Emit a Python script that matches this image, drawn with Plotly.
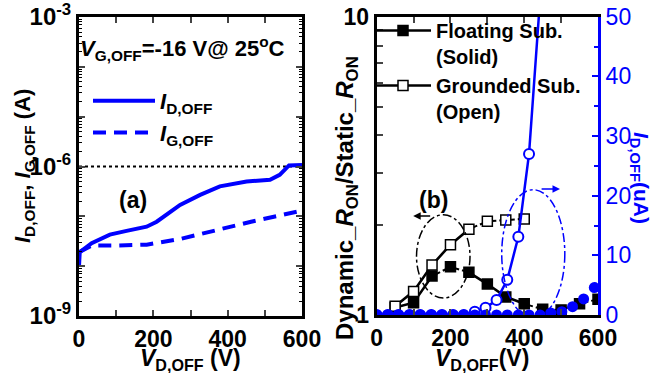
import plotly.graph_objects as go

# ---------------- data ----------------
# (a) off-state leakage vs drain voltage
v_id_a = [0, 2, 34, 83, 128, 182, 209, 272, 326, 379, 451, 514, 540, 565, 600]
i_d_off = [1.0e-8, 1.9e-8, 2.9e-8, 4.3e-8, 5.1e-8, 6.2e-8, 7.8e-8, 1.7e-7,
           2.7e-7, 4.0e-7, 5.0e-7, 5.4e-7, 6.8e-7, 1.05e-6, 1.07e-6]
v_ig_a = [0, 34, 100, 182, 272, 372, 463, 600]
i_g_off = [1.9e-8, 2.6e-8, 2.6e-8, 2.7e-8, 3.5e-8, 5.4e-8, 7.8e-8, 1.3e-7]
ref_v = [0, 600]
ref_i = [1e-6, 1e-6]

# (b) dynamic/static R_ON ratio
v_float = [50, 100, 150, 200, 250, 300, 350, 400, 450, 500, 550, 600]
ron_float = [1.06, 1.10, 1.35, 1.45, 1.39, 1.27, 1.15, 1.09, 1.045, 1.04, 1.09, 1.13]
v_ground = [50, 100, 150, 200, 250, 300, 350, 400]
ron_ground = [1.07, 1.20, 1.47, 1.72, 1.94, 2.06, 2.08, 2.10]

# (b) I_D,OFF in uA
v_id_b = [0, 30, 59, 89, 118, 148, 177, 207, 236, 266, 295, 325, 354, 384,
          413, 443, 472, 502, 531, 561, 590]
id_float_ua = [0, 0, 0, 0, 0, 0, 0, 0, 0, 0, 0, 0, 0, 0, 0, 0, 0.35, 0.55, 1.4, 2.7, 4.6]
id_ground_ua = [0, 0, 0, 0, 0, 0, 0, 0, 0, 0.56, 1.2, 2.5, 5.9, 13.1, 27.0, 53.0,
                None, None, None, None, None]

x_ticks = [0, 100, 200, 300, 400, 500, 600]
x_ticktext = ["0", "", "200", "", "400", "", "600"]
decades = [1e-9, 1e-8, 1e-7, 1e-6, 1e-5, 1e-4, 1e-3]
decade_text = ["10<sup>-9</sup>", "", "", "10<sup>-6</sup>", "", "", "10<sup>-3</sup>"]
ratio_ticks = [1, 2, 3, 4, 5, 6, 7, 8, 9, 10]
ratio_text = ["1", "", "", "", "", "", "", "", "", "10"]

# line-style of each segment (between consecutive points)
float_seg = ["solid", "solid", "dashdot", "dashdot", "solid", "solid", "solid",
             "dashdot", "dashdot", "dashdot", "dashdot"]
ground_seg = ["solid", "solid", "solid", "solid", "dashdot", "dashdot", "dashdot"]

# ---------------- style ----------------
FONT = "Liberation Sans, Arial, sans-serif"
BLUE = "#0000ff"
W, H = 653, 373


def px(x, y):
    return x / W, 1 - y / H


def split(x, y, styles):
    sx, sy, dd = [], [], []
    for i in range(len(x)):
        sx.append(x[i]); sy.append(y[i])
        if i < len(styles) and styles[i] != "solid":
            sx.append(None); sy.append(None)
            dd.append(([x[i], x[i + 1]], [y[i], y[i + 1]]))
    return sx, sy, dd


fig = go.Figure()

# ---- panel (a)
fig.add_trace(go.Scatter(x=ref_v, y=ref_i, mode="lines", xaxis="x", yaxis="y",
                         line=dict(color="black", width=2.2, dash="dot"), showlegend=False))
fig.add_trace(go.Scatter(x=v_id_a, y=i_d_off, mode="lines", xaxis="x", yaxis="y",
                         name="<i>I</i><sub>D,OFF</sub>", legend="legend",
                         line=dict(color=BLUE, width=4)))
fig.add_trace(go.Scatter(x=v_ig_a, y=i_g_off, mode="lines", xaxis="x", yaxis="y",
                         name="<i>I</i><sub>G,OFF</sub>", legend="legend",
                         line=dict(color=BLUE, width=4, dash="13px,8px")))

# ---- panel (b): blue I_D,OFF
fig.add_trace(go.Scatter(x=v_id_b, y=id_ground_ua, mode="lines+markers", xaxis="x2", yaxis="y3",
                         line=dict(color=BLUE, width=2.5),
                         marker=dict(symbol="circle", size=10, color="white",
                                     line=dict(color=BLUE, width=2)),
                         showlegend=False))
fig.add_trace(go.Scatter(x=v_id_b, y=id_float_ua, mode="markers", xaxis="x2", yaxis="y3",
                         marker=dict(symbol="circle", size=11, color=BLUE,
                                     line=dict(width=0)),
                         showlegend=False))

# ---- panel (b): black ratio curves
for (xs, ys, segs, name, fill) in [
    (v_float, ron_float, float_seg, "Floating Sub.<br>(Solid)", "black"),
    (v_ground, ron_ground, ground_seg, "Grounded Sub.<br>(Open)", "white"),
]:
    sx, sy, dd = split(xs, ys, segs)
    for (dx, dy) in dd:
        fig.add_trace(go.Scatter(x=dx, y=dy, mode="lines", xaxis="x2", yaxis="y2",
                                 line=dict(color="black", width=2, dash="dashdot"),
                                 showlegend=False))
    fig.add_trace(go.Scatter(x=sx, y=sy, mode="lines+markers", xaxis="x2", yaxis="y2",
                             name=name, legend="legend2",
                             line=dict(color="black", width=2.6),
                             marker=dict(symbol="square", size=10, color=fill,
                                         line=dict(color="black", width=1.5))))

# ---------------- axes ----------------
tick_font = dict(family=FONT, size=23, color="black", weight="bold")
common_x = dict(range=[0, 600], tickmode="array", tickvals=x_ticks, ticktext=x_ticktext,
                ticks="inside", ticklen=6, tickwidth=2, showline=True, linewidth=3,
                linecolor="black", mirror="ticks", showgrid=False, zeroline=False,
                tickfont=tick_font, automargin=False)

fig.update_layout(
    width=W, height=H, margin=dict(l=0, r=0, t=0, b=0, autoexpand=False),
    paper_bgcolor="white", plot_bgcolor="white",
    font=dict(family=FONT, color="black"),
    xaxis=dict(domain=[79 / W, 302 / W], anchor="y", **common_x),
    yaxis=dict(domain=[1 - 316 / H, 1 - 17 / H], anchor="x", type="log", range=[-9, -3],
               tickmode="array", tickvals=decades, ticktext=decade_text,
               ticks="inside", ticklen=6, tickwidth=2, showline=True, linewidth=3,
               linecolor="black", mirror="ticks", showgrid=False, zeroline=False,
               automargin=False,
               tickfont=dict(family=FONT, size=24, color="black", weight="bold"),
               minor=dict(ticks="inside", ticklen=3, tickwidth=1, tickcolor="black",
                          dtick="D1", showgrid=False)),
    xaxis2=dict(domain=[376.7 / W, 598 / W], anchor="y2", **common_x),
    yaxis2=dict(domain=[1 - 315 / H, 1 - 16.7 / H], anchor="x2", type="log", range=[0, 1],
                tickmode="array", tickvals=ratio_ticks, ticktext=ratio_text,
                ticks="inside", ticklen=6, tickwidth=2, showline=True, linewidth=3,
                linecolor="black", mirror=False, showgrid=False, zeroline=False,
                automargin=False,
                tickfont=dict(family=FONT, size=23, color="black", weight="bold")),
    yaxis3=dict(overlaying="y2", anchor="x2", side="right", range=[0, 50],
                tickmode="linear", tick0=0, dtick=10, ticks="inside", ticklen=6, tickwidth=2,
                showline=True, linewidth=3, linecolor=BLUE, tickcolor=BLUE,
                showgrid=False, zeroline=False, automargin=False,
                tickfont=dict(family=FONT, size=23, color=BLUE),
                minor=dict(ticks="inside", ticklen=4, tickwidth=1.5, tickcolor=BLUE,
                           dtick=5, showgrid=False)),
    legend=dict(x=88 / W, y=1 - 80 / H, xanchor="left", yanchor="top",
                bgcolor="rgba(0,0,0,0)", itemwidth=62, tracegroupgap=0,
                font=dict(family=FONT, size=22, color="black", weight="bold")),
    legend2=dict(x=370 / W, y=1 - 11 / H, xanchor="left", yanchor="top",
                 bgcolor="rgba(0,0,0,0)", itemwidth=56, valign="top", tracegroupgap=0,
                 font=dict(family=FONT, size=20, color="black", weight="bold")),
)

# ---------------- annotations ----------------
def ann(text, x, y, size=21, color="black", angle=0, xanchor="center", bold=True):
    xp, yp = px(x, y)
    fig.add_annotation(text=text, x=xp, y=yp, xref="paper", yref="paper",
                       showarrow=False, textangle=angle, xanchor=xanchor, yanchor="middle",
                       font=dict(family=FONT, size=size, color=color,
                                 weight="bold" if bold else "normal"))

ann("<i>V</i><sub>G,OFF</sub>=-16 V@ 25<sup>o</sup>C", 78, 49, size=22, xanchor="left")
ann("(a)", 133, 200, size=23)
ann("(b)", 433, 200, size=23)
ann("<i>I</i><sub>D,OFF</sub>, <i>I</i><sub>G,OFF</sub> (A)", 24, 166, size=22, angle=-90)
ann("<i>V</i><sub>D,OFF</sub> (V)", 190, 359, size=23)
ann("<i>V</i><sub>D,OFF</sub>(V)", 482, 359, size=23)
ann("Dynamic_<i>R</i><sub>ON</sub>/Static_<i>R</i><sub>ON</sub>", 346, 198, size=24, angle=-90)
ann("<i>I</i><sub>D,OFF</sub>(uA)", 640, 178, size=21, color=BLUE, angle=90)

# ellipses and arrows marking which axis each curve group belongs to
fig.add_shape(type="circle", xref="x2", yref="y3", x0=108, x1=253, y0=2.85, y1=16.8,
              line=dict(color="black", width=1.5, dash="dashdot"))
fig.add_shape(type="circle", xref="x2", yref="y3", x0=339, x1=510, y0=-0.5, y1=21,
              line=dict(color=BLUE, width=1.5, dash="dashdot"))
fig.add_annotation(x=99, y=16.6, ax=149, ay=16.6, xref="x2", yref="y3", axref="x2", ayref="y3",
                   text="", showarrow=True, arrowhead=2, arrowsize=1, arrowwidth=1.5,
                   arrowcolor="black")
fig.add_annotation(x=497, y=21.1, ax=443, ay=21.1, xref="x2", yref="y3", axref="x2", ayref="y3",
                   text="", showarrow=True, arrowhead=2, arrowsize=1, arrowwidth=1.5,
                   arrowcolor=BLUE)

fig.write_html("out.html")
